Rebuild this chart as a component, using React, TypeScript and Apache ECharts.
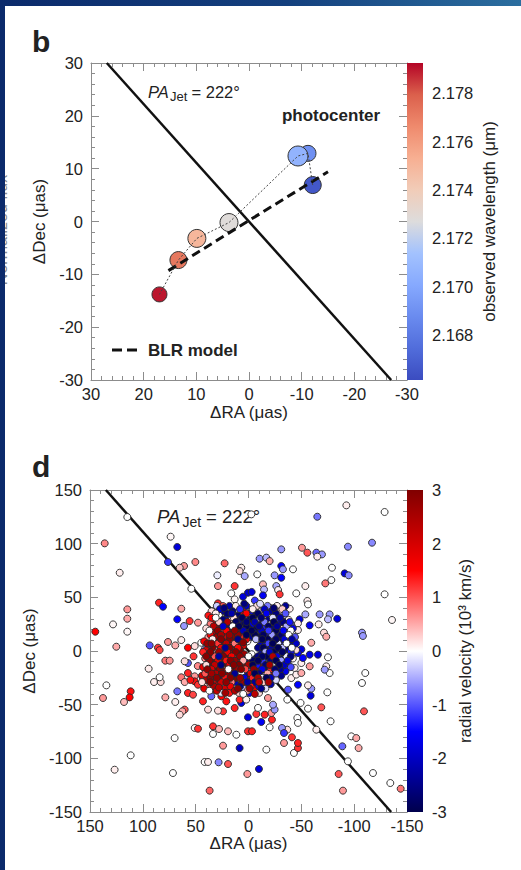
import React, { useEffect, useRef } from 'react';
import * as echarts from 'echarts';

// ---------------- Panel b: photocenter vs wavelength ----------------
const photocenterWavelength = [2.1666, 2.169, 2.1706, 2.1728, 2.175, 2.1772, 2.179];
const photocenterRA = [-12.1, -11.2, -9.3, 3.8, 9.9, 13.4, 17.0];
const photocenterDec = [6.9, 12.9, 12.4, -0.2, -3.2, -7.3, -13.8];
const blrModelRA = [15.3, 0, -15.0];
const blrModelDec = [-9.3, 0.2, 9.4];
const jetRA_b = [27.0, -27.0];
const jetDec_b = [30, -30];
const wavelengthTicks = [2.168, 2.17, 2.172, 2.174, 2.176, 2.178];
const wavelengthRange = [2.16614, 2.17926];

// ---------------- Panel d: BLR clouds, [ΔRA, ΔDec, v (10^3 km/s)] ----------------
const jetRA_d = [135, -135];
const jetDec_d = [150, -150];
const velocityTicks = [-3, -2, -1, 0, 1, 2, 3];

const cloudsNorthEast: number[][] = [
  [114.7, 124.8, 0.0], [73.7, 106.5, 0.05], [136.1, 100.3, 0.7], [67.4, 96.9, -1.8], [76.2, 82.9, -1.2],
  [61.0, 79.2, 0.6], [65.1, 77.6, 0.3], [50.3, 82.9, 0.7], [22.6, 81.7, 0.9], [6.8, 77.6, 0.1],
  [8.4, 74.5, 0.2], [121.9, 72.9, 0.1], [29.5, 70.5, -0.1], [28.9, 60.5, 0.6], [13.1, 60.5, 1.2],
  [3.6, 69.8, -0.5], [54.1, 58.0, 0.0], [16.3, 53.7, 0.0], [13.1, 48.1, 0.05], [5.2, 50.6, -1.8],
  [0.5, 54.3, -1.9], [84.7, 45.0, 1.3], [80.9, 41.3, -1.5], [63.6, 39.4, 0.5], [114.7, 38.8, 0.6],
  [28.9, 44.4, 1.3], [24.1, 41.9, 1.0], [33.6, 37.2, 0.0], [114.7, 30.1, 0.5], [128.2, 24.8, 0.05],
  [114.7, 18.0, 0.05], [67.4, 29.5, -1.5], [55.7, 27.9, 1.2], [47.8, 26.4, 0.6], [61.0, 23.3, -0.6],
  [145.0, 18.0, 1.5], [35.2, 27.9, 0.1], [27.3, 31.0, -1.8], [25.7, 20.2, 1.8], [19.4, 17.1, 1.6],
  [125.1, 4.0, 0.5], [93.5, 5.2, -1.0], [85.7, 3.1, 1.2], [84.1, 0.9, 1.1], [76.2, 8.4, 0.6],
  [69.3, 5.2, 0.5], [63.6, 10.2, 0.1], [57.3, 3.1, 1.5], [50.9, 4.6, 0.2], [44.7, 7.7, 0.0],
  [41.5, 1.5, -0.6],
];

const cloudsSouthEast: number[][] = [
  [134.5, -32.0, 0.0], [137.7, -43.8, 0.6], [117.8, -47.5, 0.4], [111.5, -37.6, 1.4], [112.5, -43.2, 1.5],
  [94.5, -16.5, 0.1], [89.4, -28.9, 0.1], [83.1, -28.9, 0.2], [84.1, -24.5, 0.0], [78.7, -9.0, 0.8],
  [74.6, -9.0, 0.6], [78.7, -43.2, 0.5], [67.4, -37.6, -0.8], [69.3, -47.5, 0.1], [69.9, -81.1, 0.0],
  [71.5, -113.7, 0.0], [111.5, -97.2, 0.0], [126.7, -110.6, 0.1], [36.8, -130.1, 0.9], [63.6, -24.5, 0.8],
  [60.4, -28.9, 0.5], [57.3, -39.1, 1.3], [52.5, -40.7, 1.1], [60.4, -54.6, 1.0], [62.6, -56.2, 0.5],
  [65.1, -59.3, 0.2], [57.3, -20.5, 1.3], [50.9, -23.6, 0.6], [50.9, -28.3, 1.4], [47.8, -31.4, 1.2],
  [43.1, -25.2, -1.3], [39.9, -32.0, 0.2], [43.1, -46.9, 1.3], [38.3, -54.6, 0.2], [50.9, -71.7, 0.05],
  [47.8, -72.4, 1.2], [33.6, -70.2, 1.2], [33.6, -77.3, 0.0], [27.9, -72.7, 0.4], [19.4, -74.8, 0.4],
  [11.5, -78.0, 0.0], [24.1, -88.2, 0.6], [8.4, -90.4, -2.0], [41.5, -103.4, 0.0], [38.3, -103.4, 0.1],
  [28.3, -103.7, -0.7], [19.4, -105.3, 1.0], [1.1, -114.6, 0.6], [0.5, -74.8, 1.2], [0.5, -61.8, -1.8],
  [24.1, -56.2, 1.2], [13.1, -53.1, 1.3], [28.9, -55.6, 0.2], [21.0, -46.9, 1.4], [25.7, -42.2, 1.5],
  [35.2, -42.2, -0.9], [32.0, -36.0, 1.3], [22.6, -37.6, -1.6], [16.3, -34.5, 1.4], [6.8, -48.4, -1.8],
  [8.4, -45.3, 1.3], [2.1, -45.3, 0.1], [57.3, -11.2, -1.0], [60.4, -9.6, 0.2], [52, -5, 1.2],
  [48, -14, 0.7], [55, -27, 1.4],
];

const cloudsNorthWest: number[][] = [
  [-92.6, 135.7, 0.1], [-128.8, 129.5, 0.0], [-2.7, 127.3, 0.0], [-65.1, 125.1, -0.8], [-94.1, 97.2, -0.7],
  [-116.9, 100.9, -0.7], [-31.0, 94.7, -0.6], [-50.6, 96.2, 0.6], [-55.7, 91.6, 1.0], [-64.2, 91.6, -0.9],
  [-69.5, 90.0, -0.6], [-65.1, 87.9, 0.1], [-10.5, 86.0, -0.6], [-16.9, 87.0, -0.4], [-20.0, 83.8, 0.5],
  [-31.0, 79.2, -1.5], [-32.6, 76.1, -0.6], [-42.1, 76.1, 0.0], [-79.0, 77.6, 0.0], [-91.0, 72.3, -1.8],
  [-94.8, 70.5, -0.7], [-78.4, 66.1, 0.0], [-72.7, 63.0, 0.8], [-8.3, 71.4, 0.0], [-24.7, 70.5, -0.6],
  [-31.0, 68.3, -1.5], [-53.8, 60.5, 0.1], [-45.2, 53.7, 0.0], [-13.7, 62.1, 0.4], [-26.3, 60.5, -0.5],
  [-28.0, 56.8, 0.1], [-29.5, 52.8, 1.2], [-14.7, 57.3, -0.4], [-13.7, 51.8, -1.6], [-128.8, 52.8, 0.0],
  [-55.7, 46.6, 0.1], [-56.3, 43.4, 0.0], [-135.8, 28.9, 0.05], [-67.3, 34.1, -0.6], [-76.8, 34.1, -0.6],
  [-75.2, 29.5, -0.4], [-84.0, 30.1, -1.8], [-53.8, 34.1, -0.5], [-66.4, 24.8, 0.1], [-57.9, 23.9, -1.6],
  [-48.4, 29.5, -1.8], [-46.8, 25.7, 0.1], [-39.0, 39.4, 0.1], [-71.4, 17.1, 0.2], [-73.6, 13.3, 0.5],
  [-107.4, 17.1, -0.6], [-108.3, 14.0, -0.6], [-20.0, 40.4, 0.1], [-46.8, 19.5, 0.1], [-59.4, 7.7, 0.5],
  [-50.0, 1.5, -1.8], [-40.5, 4.6, 0.1], [-37.4, 9.3, -1.4], [-3, 55, -1.8], [-6, 47, -1.2],
];

const cloudsSouthWest: number[][] = [
  [-75.2, -5.9, 0.0], [-73.6, -14.3, 0.1], [-76.8, -20.5, 0.0], [-110.5, -20.5, 0.0], [-107.4, -29.8, 0.0],
  [-74.6, -38.5, 0.0], [-68.9, -52.5, 1.0], [-109.3, -56.2, 1.0], [-77.7, -65.5, 0.0], [-64.2, -73.3, 0.1],
  [-97.3, -79.5, 0.0], [-102.0, -81.1, 0.5], [-88.8, -88.8, -0.9], [-104.2, -90.4, 0.5], [-94.1, -102.8, 0.0],
  [-117.8, -113.7, 0.0], [-85.3, -114.6, 1.0], [-89.4, -130.1, 0.6], [-134.2, -123.0, 0.0], [-144.0, -128.3, 0.8],
  [-9.9, -109.9, -1.8], [-16.9, -91.9, 0.0], [-43.0, -95.0, 0.0], [-46.8, -90.4, 1.2], [-46.8, -85.7, 1.3],
  [-41.1, -80.4, 1.2], [-33.6, -85.7, 0.6], [-36.7, -73.3, 0.2], [-31.7, -71.7, -0.6], [-33.6, -76.4, -1.2],
  [-46.2, -62.4, 0.0], [-46.8, -67.0, 0.0], [-56.3, -53.7, 0.0], [-49.3, -48.4, 0.0], [-36.7, -45.3, 0.0],
  [-20.0, -71.1, 0.0], [-22.2, -64.0, 1.3], [-12.1, -66.1, -1.6], [-21.6, -57.8, 0.6], [-15.3, -59.3, 1.3],
  [-7.4, -58.7, 1.2], [-24.7, -54.6, -0.6], [-23.2, -50.0, -0.5], [-18.4, -43.8, 0.6], [-9.0, -53.0, 0.0],
  [-3.3, -74.8, 1.3], [-58.8, -41.6, -1.8], [-59.4, -35.1, -0.6], [-56.3, -32.0, 0.1], [-46.8, -31.4, -1.5],
  [-37.4, -36.0, -1.0], [-40.5, -25.2, 0.1], [-45.2, -22.0, 0.1], [-50.0, -11.2, 0.1], [-57.9, -14.3, 0.6],
  [-72.1, -17.4, -0.6], [-65.7, -3.4, -1.8], [-57.9, -3.4, -1.7], [-46.8, -1.9, -1.6], [-51.5, -6.5, -1.5],
  [-43.7, -15.8, 0.1], [-50.0, -20.5, 0.5],
];

const cloudsCore: number[][] = [
  [30, 42, -0.3], [18, 42, -2.2], [12, 42, 0.1], [2, 42, -2.0], [-8, 42, 0.2], [-18, 42, -0.8], [-27, 42, 0.1], [-35, 42, -2.4],
  [35, 37, 0.2], [25, 37, -2.3], [15, 37, -2.6], [6, 37, 1.8], [-3, 37, -1.6], [-12, 37, 0.1], [-22, 37, -2.3], [-30, 37, 0.3],
  [38, 33, 1.4], [28, 33, 0.0], [20, 33, -2.0], [10, 33, -2.7], [1, 33, -0.9], [-7, 33, -2.5], [-15, 33, 0.4], [-25, 33, -1.9], [-33, 33, -0.3],
  [32, 29, 2.2], [24, 29, -2.6], [16, 29, 0.3], [8, 29, -2.3], [-1, 29, -2.8], [-10, 29, -0.2], [-19, 29, -2.5], [-28, 29, -1.2], [-38, 29, 0.1],
  [36, 25, 0.8], [27, 25, 2.0], [19, 25, -2.1], [11, 25, -0.6], [4, 25, -2.7], [-4, 25, -1.9], [-12, 25, -2.9], [-21, 25, -0.1], [-30, 25, -2.1], [-40, 25, -0.9],
  [40, 21, 0.2], [31, 21, 1.8], [23, 21, 2.6], [15, 21, -2.4], [7, 21, 0.4], [0, 21, -2.5], [-8, 21, -2.8], [-16, 21, -1.3], [-24, 21, -2.2], [-33, 21, 0.2], [-42, 21, -1.6],
  [34, 17, 2.4], [26, 17, 0.9], [18, 17, 2.7], [10, 17, 2.1], [3, 17, -2.6], [-5, 17, -1.8], [-13, 17, -2.9], [-21, 17, -2.3], [-29, 17, -0.5], [-37, 17, -2.5],
  [38, 13, 0.5], [30, 13, 2.6], [22, 13, 1.9], [14, 13, 2.8], [6, 13, 1.3], [-2, 13, -2.4], [-10, 13, -2.8], [-18, 13, -1.5], [-26, 13, -2.7], [-34, 13, 0.1], [-44, 13, -1.0],
  [42, 9, 1.5], [33, 9, 2.2], [25, 9, 2.9], [17, 9, 1.6], [9, 9, 2.6], [1, 9, 0.1], [-14, 9, -2.6], [-22, 9, -2.1], [-30, 9, -2.7], [-38, 9, -0.4],
  [37, 5, 0.3], [29, 5, 2.5], [21, 5, 1.2], [13, 5, 2.8], [5, 5, 2.0], [-11, 5, -2.1], [-16, 5, -1.7], [-25, 5, -2.9], [-33, 5, -1.3], [-41, 5, -2.2],
  [40, 1, 2.0], [32, 1, 0.6], [24, 1, 2.7], [16, 1, 2.3], [8, 1, 2.9], [-13, 1, -2.7], [-19, 1, -2.6], [-28, 1, -1.6], [-36, 1, -2.5], [-45, 1, 0.2],
  [36, -3, 2.6], [28, -3, 1.7], [20, -3, 2.8], [12, -3, 1.1], [4, -3, 2.6], [-3, -3, 0.0], [-12, -3, -2.2], [-21, -3, -2.8], [-30, -3, -0.8], [-39, -3, -2.4],
  [41, -7, 0.7], [33, -7, 2.8], [25, -7, 2.0], [17, -7, 2.9], [9, -7, 1.8], [1, -7, -2.1], [-7, -7, -2.7], [-15, -7, -0.5], [-24, -7, -2.5], [-33, -7, -2.7], [-42, -7, 0.1],
  [38, -11, 2.3], [30, -11, 1.3], [22, -11, 2.9], [14, -11, 2.4], [6, -11, 2.7], [-2, -11, 1.6], [-10, -11, -2.4], [-19, -11, -1.0], [-28, -11, -2.0], [-37, -11, 0.3],
  [43, -15, 1.7], [35, -15, 2.6], [27, -15, 1.9], [19, -15, 2.9], [11, -15, 1.0], [3, -15, 2.8], [-5, -15, -2.6], [-13, -15, 1.5], [-22, -15, -2.2], [-31, -15, 0.6], [-40, -15, -1.1],
  [39, -19, 0.5], [31, -19, 2.7], [23, -19, 2.1], [15, -19, 2.6], [7, -19, 1.8], [-1, -19, -0.7], [-9, -19, 2.2], [-17, -19, -2.5], [-26, -19, 0.2], [-35, -19, -1.7],
  [44, -23, 2.0], [35, -23, 1.1], [27, -23, 2.8], [19, -23, 0.4], [11, -23, 2.5], [3, -23, -2.3], [-5, -23, 1.7], [-13, -23, -0.8], [-22, -23, 1.9], [-31, -23, -2.5],
  [40, -27, 2.4], [32, -27, 1.5], [24, -27, -2.0], [16, -27, 2.2], [8, -27, 0.7], [0, -27, 2.1], [-8, -27, -1.8], [-17, -27, 0.9], [-26, -27, -0.2],
  [36, -31, 0.8], [28, -31, 2.3], [20, -31, 0.2], [12, -31, -2.1], [4, -31, 1.9], [-4, -31, -0.4], [-12, -31, 1.5], [-21, -31, -2.2],
  [42, -35, 1.8], [31, -35, 0.5], [22, -35, 2.0], [14, -35, 0.1], [5, -35, -0.5], [-6, -35, 1.7], [-16, -35, -0.2],
  [26, -39, -0.1], [18, -39, 1.4], [9, -39, 0.3], [-1, -39, -1.5], [-10, -39, 0.2],
];

const cloudsCoreInner: number[][] = [
  [27, 39, -1.9], [8, 39, -1.3], [-4, 39, 0.1], [-15, 39, -2.0], [-32, 39, 0.3],
  [31, 35, 0.1], [20, 35, -2.7], [2, 35, 1.5], [-17, 35, -1.6], [-26, 35, -2.6],
  [35, 31, 1.5], [14, 31, 0.2], [-4, 31, -2.9], [-23, 31, -0.2],
  [28, 27, 0.3], [12, 27, -2.8], [-6, 27, -2.2], [-15, 27, -0.8], [-33, 27, -2.6],
  [33, 23, 2.3], [15, 23, 0.0], [2, 23, -2.9], [-19, 23, -2.8], [-36, 23, -0.5],
  [29, 19, 2.8], [21, 19, 1.5], [5, 19, -2.1], [-12, 19, -2.0], [-26, 19, -2.9], [-40, 19, 0.0],
  [36, 15, 1.6], [26, 15, 2.5], [10, 15, 2.7], [-6, 15, -2.9], [-22, 15, -0.6], [-31, 15, -2.7],
  [34, 11, 0.1], [18, 11, 2.9], [2, 11, 1.7], [-7, 11, -0.4], [-18, 11, -2.9], [-34, 11, -1.8],
  [39, 7, 2.7], [29, 7, 1.2], [21, 7, 2.3], [13, 7, 0.8], [-19, 7, -1.1], [-28, 7, -0.2], [-45, 7, -2.0],
  [34, 3, 2.9], [26, 3, 1.6], [18, 3, 2.9], [10, 3, 1.5], [-9, 3, -2.5], [-14, 3, -2.9], [-22, 3, -2.2], [-32, 3, -0.4],
  [43, -1, 1.3], [28, -1, 2.6], [20, -1, 1.8], [12, -1, 2.9], [-16, -1, -0.5], [-24, -1, -2.9], [-40, -1, -1.4],
  [32, -5, 1.0], [24, -5, 2.9], [16, -5, 1.6], [8, -5, 2.8], [-9, -5, -2.5], [-18, -5, -2.9], [-27, -5, -1.7], [-36, -5, -0.1],
  [37, -9, 2.8], [29, -9, 1.8], [21, -9, 1.4], [13, -9, 2.7], [5, -9, 0.5], [-4, -9, -2.8], [-13, -9, -1.2], [-21, -9, -2.6], [-31, -9, -0.6],
  [40, -13, 0.2], [32, -13, 2.2], [18, -13, 1.7], [9, -13, 2.9], [0, -13, 2.4], [-8, -13, -1.4], [-16, -13, -2.6], [-25, -13, 0.0], [-34, -13, -2.0],
  [35, -17, 1.9], [27, -17, 2.7], [11, -17, 2.5], [3, -17, 1.1], [-13, -17, -1.7], [-21, -17, 1.3], [-30, -17, -2.4],
  [41, -21, 1.0], [31, -21, 2.4], [19, -21, 2.8], [7, -21, 0.0], [-2, -21, 1.9], [-10, -21, -2.5], [-18, -21, 0.5],
  [36, -25, 2.7], [22, -25, 1.4], [12, -25, 2.9], [4, -25, -1.7], [-4, -25, 1.3], [-13, -25, -0.1], [-21, -25, -2.1],
  [44, -29, 0.2], [26, -29, 2.0], [16, -29, 0.8], [6, -29, 2.6], [-6, -29, -2.4], [-14, -29, 0.3],
  [33, -33, 2.5], [17, -33, 1.7], [8, -33, -2.5], [-2, -33, 1.4], [-10, -33, -1.6],
  [37, -37, 0.0], [30, -37, 2.2], [13, -37, 2.4], [1, -37, 0.6],
];

const cloudsCoreFill: number[][] = [
  [23, 40, -2.6], [4, 44, -2.6], [-11, 44, -0.2], [-24, 40, -2.7],
  [16, 35, -2.2], [-9, 35, -2.8], [-35, 35, -1.0],
  [31, 31, 0.0], [6, 31, -2.9], [-12, 31, -2.7], [-30, 31, -2.3],
  [20, 27, 2.4], [2, 27, -2.7], [-24, 27, -2.9], [-39, 27, -1.4],
  [24, 23, -1.9], [9, 23, -2.9], [-10, 23, -2.5], [-27, 23, -2.4],
  [37, 19, 0.0], [13, 19, 2.8], [-3, 19, -2.9], [-19, 19, -1.2], [-33, 19, -1.6],
  [18, 15, 2.7], [2, 15, -2.9], [-14, 15, -2.8], [-38, 15, 0.0],
  [26, 11, 2.9], [10, 11, -2.5], [-13, 11, -2.9], [-26, 11, -2.8], [-41, 11, -2.3],
  [35, 7, 2.8], [5, 8, 2.9], [-23, 7, -2.9], [-36, 7, 0.0],
  [22, 3, -2.4], [-28, 3, -2.9], [-41, 3, 0.0],
  [36, -1, 2.9], [-20, -1, -2.0], [-32, -1, -2.8],
  [40, -5, 2.9], [28, -5, -2.3], [0, -5, 0.0], [-13, -5, -2.8], [-23, -5, 2.4], [-40, -5, -2.6],
  [17, -9, 2.9], [-9, -9, -2.9], [-26, -9, -2.9], [-37, -9, -1.9],
  [26, -13, -2.6], [14, -13, 2.9], [-4, -13, -2.9], [-20, -13, 2.6], [-29, -13, -2.9],
  [39, -17, 2.8], [19, -17, 0.0], [7, -17, 2.9], [-5, -17, 2.8], [-25, -17, -2.7],
  [35, -21, 2.6], [25, -21, 2.9], [13, -21, -2.4], [-6, -21, -2.9], [-26, -21, -0.8],
  [30, -25, 2.9], [17, -25, 2.9], [8, -25, 2.7], [-9, -25, 2.6], [-17, -25, -2.9],
  [36, -29, 2.9], [21, -29, 2.8], [1, -29, -2.3], [-10, -29, 2.2], [-19, -29, 2.5],
  [28, -34, 2.4], [10, -35, 2.9], [-1, -35, 2.7], [-12, -35, -2.5],
  [22, -39, 2.6], [5, -40, 0.0], [-6, -40, 2.3],
];

// ---------------- styles ----------------
const FONT = '"Liberation Sans", Arial, Helvetica, sans-serif';
const TEXT = '#222222';
const FRAME = '#8c8c8c';
const COOLWARM = ['#3b4cc0', '#516ddb', '#6a8bef', '#86a9fe', '#a3c2fe', '#dddcdc', '#f1ccb8', '#f7af92', '#ef8a6d', '#db604c', '#b40426'];
const SEISMIC = ['#00004c', '#0000ff', '#ffffff', '#ff0000', '#800000'];
const markerSizesB = [17, 16, 20, 18, 18, 17, 15];

function frameX(gridIndex: number, min: number, max: number, interval: number, position: string, labels: boolean, nameGap = 24) {
  return {
    type: 'value', gridIndex, position, inverse: true, min, max, interval,
    axisLine: { show: true, onZero: false, lineStyle: { color: FRAME, width: 1 } },
    axisTick: { show: true, inside: true, length: 8, lineStyle: { color: FRAME } },
    minorTick: { show: true, splitNumber: 5, length: 4, lineStyle: { color: FRAME } },
    splitLine: { show: false }, minorSplitLine: { show: false },
    axisLabel: { show: labels, fontSize: 16.5, color: TEXT, margin: 5, fontFamily: FONT },
    name: labels ? 'ΔRA (μas)' : '', nameLocation: 'middle', nameGap,
    nameTextStyle: { fontSize: 17, color: TEXT, fontFamily: FONT },
  };
}

function frameY(gridIndex: number, min: number, max: number, interval: number, position: string, labels: boolean, nameGap = 37) {
  return {
    type: 'value', gridIndex, position, min, max, interval,
    axisLine: { show: true, onZero: false, lineStyle: { color: FRAME, width: 1 } },
    axisTick: { show: true, inside: true, length: 8, lineStyle: { color: FRAME } },
    minorTick: { show: true, splitNumber: 5, length: 4, lineStyle: { color: FRAME } },
    splitLine: { show: false }, minorSplitLine: { show: false },
    axisLabel: { show: labels, fontSize: 16.5, color: TEXT, margin: 8, fontFamily: FONT },
    name: labels ? 'ΔDec (μas)' : '', nameLocation: 'middle', nameGap, nameRotate: 90,
    nameTextStyle: { fontSize: 17, color: TEXT, fontFamily: FONT },
  };
}

function colorbarX(gridIndex: number) {
  return { type: 'value', gridIndex, min: 0, max: 1, show: false };
}

function colorbarY(gridIndex: number, min: number, max: number, ticks: number[], fmt: (v: number) => string, name: string, nameGap: number) {
  return {
    type: 'value', gridIndex, position: 'right', min, max,
    axisLine: { show: false }, axisTick: { show: false }, splitLine: { show: false },
    axisLabel: { show: true, customValues: ticks, formatter: fmt, fontSize: 16.5, color: TEXT, margin: 9, fontFamily: FONT },
    name, nameLocation: 'middle', nameGap, nameRotate: 90,
    nameTextStyle: { fontSize: 17, color: TEXT, fontFamily: FONT },
  };
}

function colorbarSeries(axisIndex: number, min: number, max: number, colors: string[]) {
  const stops = colors.map((c, i) => ({ offset: 1 - i / (colors.length - 1), color: c })).reverse();
  return {
    type: 'custom', xAxisIndex: axisIndex, yAxisIndex: axisIndex, silent: true,
    data: [[0, min]],
    renderItem: (_p: any, api: any) => {
      const a = api.coord([0, max]);
      const b = api.coord([1, min]);
      return {
        type: 'rect',
        shape: { x: a[0], y: a[1], width: b[0] - a[0], height: b[1] - a[1] },
        style: { fill: new echarts.graphic.LinearGradient(0, 0, 0, 1, stops) },
      };
    },
  };
}

function buildOption() {
  const photocenter = photocenterRA.map((ra, i) => [ra, photocenterDec[i], photocenterWavelength[i]]);
  const blr = blrModelRA.map((ra, i) => [ra, blrModelDec[i]]);
  const jetB = jetRA_b.map((ra, i) => [ra, jetDec_b[i]]);
  const jetD = jetRA_d.map((ra, i) => [ra, jetDec_d[i]]);
  const clouds = [
    ...cloudsNorthEast, ...cloudsSouthEast, ...cloudsNorthWest, ...cloudsSouthWest,
    ...cloudsCore, ...cloudsCoreInner, ...cloudsCoreFill,
  ];

  const txt = (x: number, y: number, text: string, size: number, extra: any = {}) => ({
    type: 'text', x, y, silent: true,
    style: { text, fill: TEXT, fontSize: size, fontFamily: FONT, align: 'left', verticalAlign: 'middle', ...extra },
  });

  return {
    animation: false,
    backgroundColor: '#ffffff',
    textStyle: { fontFamily: FONT },
    grid: [
      { left: 86, top: 57, width: 316, height: 317, outerBoundsMode: 'none' },
      { left: 402, top: 57, width: 16, height: 317, outerBoundsMode: 'none' },
      { left: 85, top: 484, width: 317, height: 322, outerBoundsMode: 'none' },
      { left: 402, top: 484, width: 16, height: 322, outerBoundsMode: 'none' },
    ],
    xAxis: [
      frameX(0, -30, 30, 10, 'bottom', true, 24),
      frameX(0, -30, 30, 10, 'top', false),
      colorbarX(1),
      frameX(2, -150, 150, 50, 'bottom', true, 22),
      frameX(2, -150, 150, 50, 'top', false),
      colorbarX(3),
    ],
    yAxis: [
      frameY(0, -30, 30, 10, 'left', true, 37),
      frameY(0, -30, 30, 10, 'right', false),
      colorbarY(1, wavelengthRange[0], wavelengthRange[1], wavelengthTicks, (v: number) => v.toFixed(3), 'observed wavelength (μm)', 58),
      frameY(2, -150, 150, 50, 'left', true, 46),
      frameY(2, -150, 150, 50, 'right', false),
      colorbarY(3, -3, 3, velocityTicks, (v: number) => String(Math.round(v)), 'radial velocity (10³ km/s)', 34),
    ],
    visualMap: [
      { type: 'continuous', show: false, seriesIndex: 3, dimension: 2, min: wavelengthRange[0], max: wavelengthRange[1], inRange: { color: COOLWARM } },
      { type: 'continuous', show: false, seriesIndex: 6, dimension: 2, min: -3, max: 3, inRange: { color: SEISMIC } },
    ],
    series: [
      { type: 'line', xAxisIndex: 0, yAxisIndex: 0, data: jetB, symbol: 'none', silent: true, lineStyle: { color: '#111', width: 2.5 } },
      { type: 'line', xAxisIndex: 0, yAxisIndex: 0, data: blr, symbol: 'none', silent: true, lineStyle: { color: '#111', width: 3, type: [9, 5] } },
      { type: 'line', xAxisIndex: 0, yAxisIndex: 0, data: photocenter.map((p) => [p[0], p[1]]), symbol: 'none', silent: true, lineStyle: { color: '#444', width: 1, type: [2, 2] } },
      {
        type: 'scatter', xAxisIndex: 0, yAxisIndex: 0, data: photocenter, silent: true,
        symbolSize: (_v: any, p: any) => markerSizesB[p.dataIndex],
        itemStyle: { borderColor: '#333', borderWidth: 1, opacity: 1 },
      },
      colorbarSeries(2, wavelengthRange[0], wavelengthRange[1], COOLWARM),
      { type: 'line', xAxisIndex: 3, yAxisIndex: 3, data: jetD, symbol: 'none', silent: true, z: 1, lineStyle: { color: '#111', width: 2.5 } },
      {
        type: 'scatter', xAxisIndex: 3, yAxisIndex: 3, data: clouds, silent: true, symbolSize: 7, z: 3,
        itemStyle: { borderColor: 'rgba(40,40,40,0.9)', borderWidth: 1, opacity: 1 },
      },
      colorbarSeries(5, -3, 3, SEISMIC),
    ],
    graphic: [
      { ...txt(-4, 224, 'Normalized flux', 16, { fill: '#8a8a8a', align: 'center' }), rotation: Math.PI / 2 },
      txt(27, 35, 'b', 30, { fontWeight: 'bold' }),
      txt(27, 460, 'd', 30, { fontWeight: 'bold' }),
      txt(143, 85.7, 'PA', 16.5, { fontStyle: 'italic' }),
      txt(165, 90.9, 'Jet', 13),
      txt(186.5, 85.7, '= 222°', 16.5),
      txt(152, 510.7, 'PA', 18.5, { fontStyle: 'italic' }),
      txt(177.5, 515.5, 'Jet', 14),
      txt(201, 510.7, '= 222°', 18.5),
      txt(326, 109, 'photocenter', 17, { fontWeight: 'bold', align: 'center' }),
      txt(143, 344, 'BLR model', 17, { fontWeight: 'bold' }),
      { type: 'line', silent: true, shape: { x1: 107, y1: 344, x2: 133, y2: 344 }, style: { stroke: '#111', lineWidth: 3, lineDash: [10, 5] } },
    ],
  };
}

export default function App() {
  const ref = useRef<HTMLDivElement>(null);
  useEffect(() => {
    if (!ref.current) return;
    const chart = echarts.init(ref.current, undefined, { renderer: 'svg' });
    chart.setOption(buildOption() as any);
    return () => chart.dispose();
  }, []);
  return (
    <div
      style={{
        position: 'fixed', left: 0, top: 0, width: 521, height: 870, overflow: 'hidden',
        background: 'linear-gradient(90deg, #0b2a6b 0%, #14407e 55%, #2b6e9f 100%)',
      }}
    >
      <div ref={ref} style={{ position: 'absolute', left: 5, top: 6, width: 516, height: 864, background: '#ffffff' }} />
    </div>
  );
}
